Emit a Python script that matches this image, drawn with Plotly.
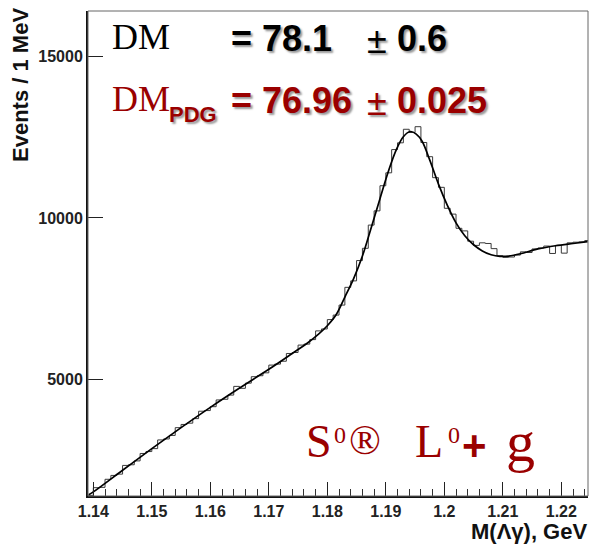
import plotly.graph_objects as go

# Lambda-gamma invariant mass spectrum, 1 MeV bins
bin_lo = 1.139
bin_width = 0.001
counts = [
    1400, 1640, 1650, 1900, 2020, 2060, 2330, 2350, 2470, 2700,
    2760, 2850, 3120, 3150, 3260, 3500, 3600, 3640, 3780, 4010,
    4030, 4150, 4360, 4380, 4510, 4780, 4720, 4880, 5080, 5110,
    5200, 5440, 5470, 5560, 5800, 5830, 6060, 6090, 6230, 6500,
    6560, 6850, 6990, 7300, 7850, 8050, 8680, 9060, 9780, 10220,
    11000, 11400, 12120, 12330, 12750, 12650, 12830, 12340, 11900, 11250,
    10950, 10300, 10120, 9680, 9600, 9280, 9150, 9230, 9210, 9050,
    8830, 8780, 8790, 8850, 8950, 8930, 9040, 9070, 9130, 8900,
    9150, 8910, 9230, 9250, 9260, 9300,
]

# fitted signal + background curve
fit_x = [1.1392, 1.1400, 1.1450, 1.1500, 1.1550, 1.1600, 1.1650, 1.1700,
         1.1740, 1.1765, 1.1785, 1.1800, 1.1815, 1.1830, 1.1845, 1.1860,
         1.1875, 1.1890, 1.1905, 1.1918, 1.1930, 1.1942, 1.1952, 1.1962,
         1.1975, 1.1990, 1.2005, 1.2020, 1.2035, 1.2050, 1.2065, 1.2080,
         1.2095, 1.2110, 1.2130, 1.2160, 1.2190, 1.2220, 1.2245]
fit_y = [1420, 1510, 2180, 2850, 3500, 4130, 4730, 5310,
         5800, 6110, 6400, 6660, 7000, 7550, 8120, 8820,
         9700, 10600, 11480, 12120, 12520, 12680, 12600, 12380,
         11800, 11050, 10400, 9850, 9450, 9170, 8980, 8860,
         8810, 8820, 8890, 9040, 9140, 9210, 9265]

x_ticks = [1.14, 1.15, 1.16, 1.17, 1.18, 1.19, 1.2, 1.21, 1.22]
x_tick_text = ["1.14", "1.15", "1.16", "1.17", "1.18", "1.19", "1.2", "1.21", "1.22"]
y_ticks = [5000, 10000, 15000]
y_tick_text = ["5000", "10000", "15000"]

# step outline of the histogram
edges = [bin_lo + i * bin_width for i in range(len(counts) + 1)]
step_y = counts + [counts[-1]]

DARK_RED = "#9a0000"
W, H = 592, 549
L, R, T, B = 88, 4, 11, 53


def fx(px):
    return (px - L) / (W - L - R)


def fy(py):
    return (H - B - py) / (H - T - B)


fig = go.Figure()
fig.add_trace(go.Scatter(x=edges, y=step_y, mode="lines", line_shape="hv",
                         line=dict(color="#3a3a3a", width=1), hoverinfo="skip"))
fig.add_trace(go.Scatter(x=fit_x, y=fit_y, mode="lines", line_shape="spline",
                         line=dict(color="#000000", width=1.7), hoverinfo="skip"))

tick_font = dict(family="Liberation Sans, Arial, sans-serif", size=16,
                 color="#222", weight="bold")
fig.update_xaxes(range=[1.13909, 1.22456], tickvals=x_ticks, ticktext=x_tick_text,
                 ticks="inside", ticklen=14, tickwidth=1, tickcolor="#222",
                 minor=dict(ticks="inside", ticklen=7, dtick=0.002, tick0=1.14,
                            tickcolor="#333", tickwidth=1),
                 showline=True, linecolor="#111", linewidth=2,
                 showgrid=False, zeroline=False, tickfont=tick_font)
fig.update_yaxes(range=[1382, 16416], tickvals=y_ticks, ticktext=y_tick_text,
                 ticks="inside", ticklen=15, tickwidth=1, tickcolor="#222",
                 showline=True, linecolor="#111", linewidth=2,
                 showgrid=False, zeroline=False, tickfont=tick_font)

bold_sans = "Liberation Sans, Arial, sans-serif"
serif = "Liberation Serif, Times New Roman, serif"
shadow = "2px 2px 2px rgba(0,0,0,0.4)"


def txt(s, px, py, size, color, family, weight="normal", anchor="left", sh=None, valign="middle"):
    f = dict(family=family, size=size, color=color, weight=weight)
    if sh:
        f["shadow"] = sh
    return dict(text=s, x=fx(px), y=fy(py), xref="paper", yref="paper",
                xanchor=anchor, yanchor=valign, showarrow=False, font=f)


ann = [
    # result line
    txt("DM", 110, 37, 36, "#000", serif),
    txt("= 78.1", 229, 38, 36, "#000", bold_sans, "bold", sh=shadow),
    txt("±", 365, 40, 36, "#000", bold_sans, sh=shadow),
    txt("0.6", 395, 38, 36, "#000", bold_sans, "bold", sh=shadow),
    # reference value line
    txt("DM", 110, 99, 36, DARK_RED, serif),
    txt("PDG", 167, 114, 22, DARK_RED, bold_sans, "bold", sh=shadow),
    txt("= 76.96", 229, 100, 36, DARK_RED, bold_sans, "bold", sh=shadow),
    txt("±", 365, 102, 36, DARK_RED, bold_sans, sh=shadow),
    txt("0.025", 395, 100, 36, DARK_RED, bold_sans, "bold", sh=shadow),
    # decay label
    txt("S", 304, 441, 46, DARK_RED, serif),
    txt("0", 332, 435, 24, DARK_RED, serif),
    txt("®", 347, 440, 42, DARK_RED, serif),
    txt("L", 413, 441, 46, DARK_RED, serif),
    txt("0", 446, 435, 24, DARK_RED, serif),
    txt("+", 460, 445, 42, DARK_RED, bold_sans, "bold"),
    txt("g", 504, 441, 58, DARK_RED, serif),
    # axis titles
    dict(text="M(Λγ), GeV", x=fx(589), y=fy(531), xref="paper", yref="paper",
         xanchor="right", yanchor="middle", showarrow=False,
         font=dict(family=bold_sans, size=22, color="#111", weight="bold")),
    dict(text="Events / 1 MeV", x=fx(20), y=fy(6), xref="paper", yref="paper",
         xanchor="center", yanchor="top", textangle=-90, showarrow=False,
         font=dict(family=bold_sans, size=22, color="#111", weight="bold")),
]

fig.update_layout(
    width=W, height=H,
    margin=dict(l=L, r=R, t=T, b=B, pad=0),
    paper_bgcolor="white", plot_bgcolor="white",
    showlegend=False,
    annotations=ann,
    shapes=[dict(type="rect", xref="paper", yref="paper", x0=0, y0=0, x1=1, y1=1,
                 line=dict(color="#666", width=1), layer="above")],
)

fig.write_html("out.html")
